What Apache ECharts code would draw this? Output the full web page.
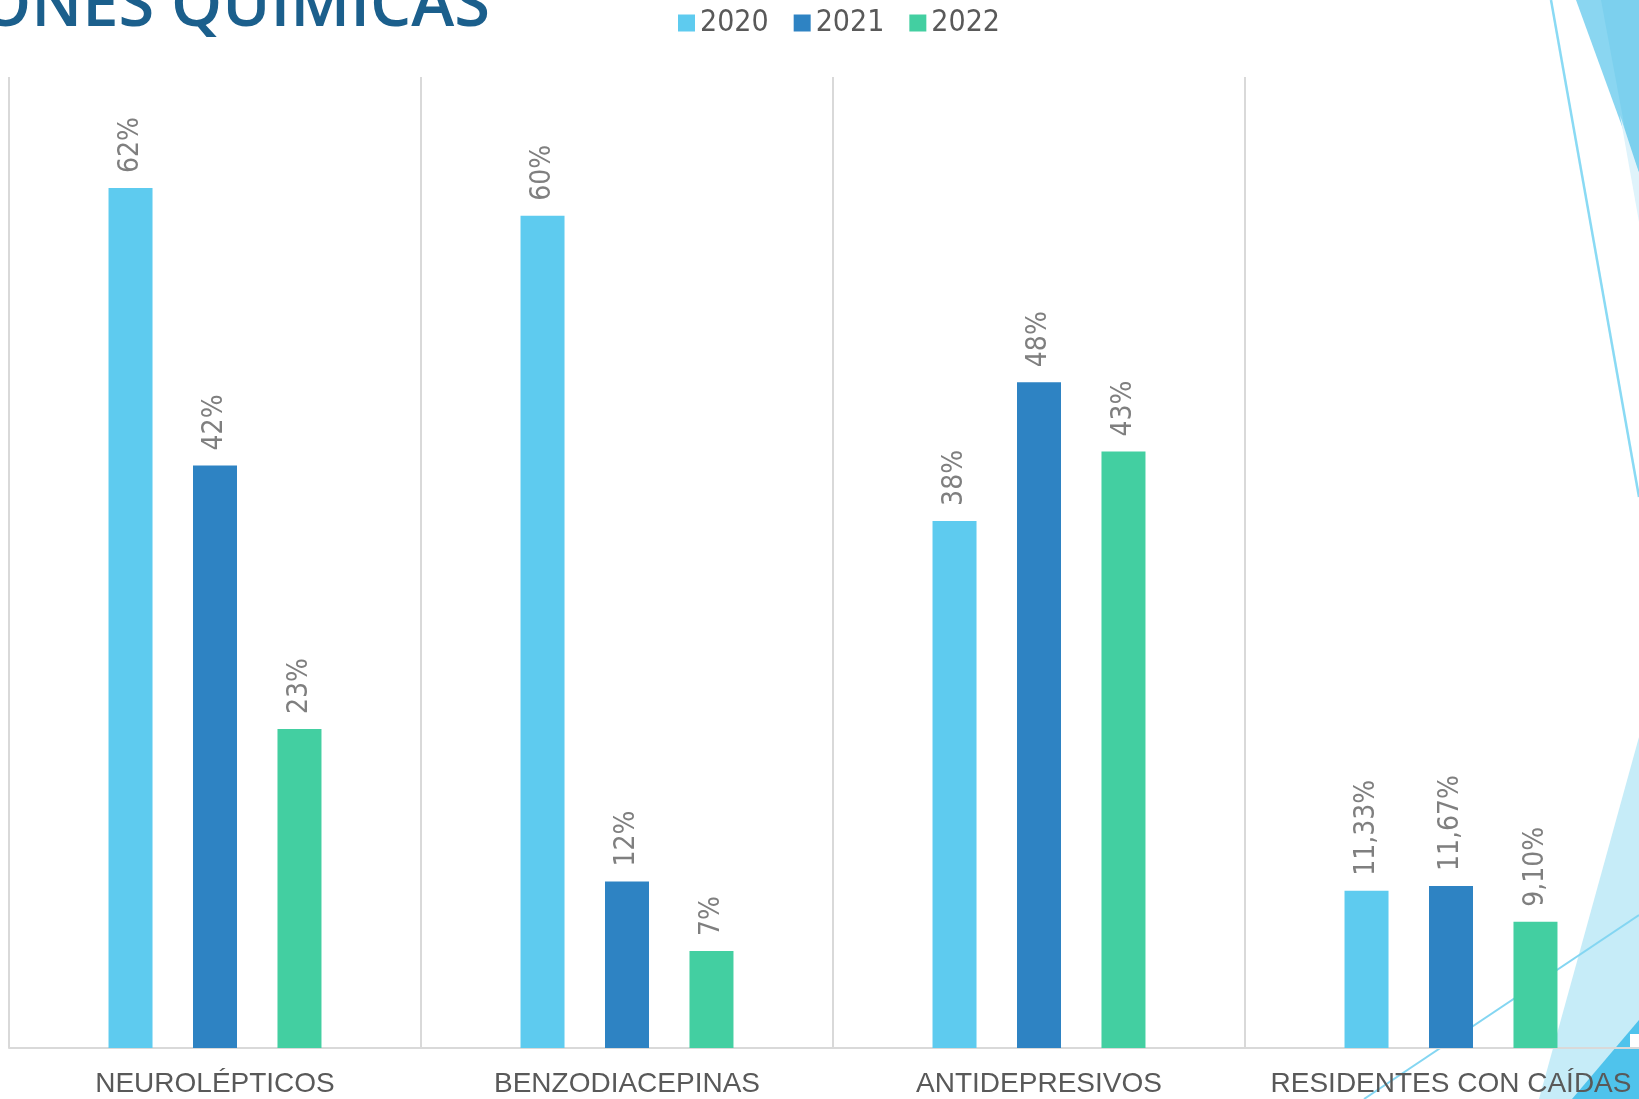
<!DOCTYPE html>
<html>
<head>
<meta charset="utf-8">
<script src="https://cdn.jsdelivr.net/npm/echarts@6/dist/echarts.min.js"></script>
<style>
html,body{margin:0;padding:0;background:#fff;}
#c{width:1639px;height:1099px;}
</style>
</head>
<body>
<div id="c"></div>
<script>
var categories = ['NEUROLÉPTICOS', 'BENZODIACEPINAS', 'ANTIDEPRESIVOS', 'RESIDENTES CON CAÍDAS'];
var seriesNames = ['2020', '2021', '2022'];
var values2020 = [62, 60, 38, 11.33];
var values2021 = [42, 12, 48, 11.67];
var values2022 = [23, 7, 43, 9.10];
var titleText = 'ONES QUÍMICAS';

var colors = ['#5ecbef', '#2e83c3', '#43cfa1'];
var narrow = "'Liberation Sans Narrow', 'DejaVu Sans Condensed', sans-serif";

function fmt(p) {
  var v = p.value;
  if (Number.isInteger(v)) return v + '%';
  return v.toFixed(2).replace('.', ',') + '%';
}

function makeSeries(name, data, color) {
  return {
    name: name,
    type: 'bar',
    data: data,
    barWidth: 44,
    barGap: '92%',
    z: 4,
    itemStyle: { color: color },
    label: {
      show: true,
      position: 'top',
      rotate: 90,
      align: 'left',
      verticalAlign: 'middle',
      distance: 15,
      formatter: fmt,
      color: '#7f7f7f',
      fontSize: 28,
      fontFamily: narrow
    }
  };
}

var chart = echarts.init(document.getElementById('c'));
chart.setOption({
  animation: false,
  backgroundColor: '#ffffff',
  color: colors,
  grid: { left: 9, top: 77, width: 1648, height: 971, containLabel: false, outerBoundsMode: 'none' },
  legend: {
    data: seriesNames,
    left: 678,
    top: 8,
    padding: 0,
    icon: 'rect',
    itemWidth: 17,
    itemHeight: 17,
    itemGap: 25,
    textStyle: { fontSize: 30, color: '#595959', fontFamily: narrow }
  },
  xAxis: {
    type: 'category',
    data: categories,
    z: 3,
    axisLine: { show: true, lineStyle: { color: '#d9d9d9', width: 2 } },
    axisTick: { show: false },
    splitLine: { show: true, lineStyle: { color: '#d9d9d9', width: 2 } },
    axisLabel: {
      interval: 0,
      margin: 22,
      fontSize: 28,
      color: '#595959',
      fontFamily: "'Liberation Sans', Arial, sans-serif"
    }
  },
  yAxis: {
    type: 'value',
    min: 0,
    max: 70,
    show: false,
    splitLine: { show: false }
  },
  graphic: [
    { type: 'polygon', z: 0, silent: true, shape: { points: [[1576,0],[1639,0],[1639,173]] }, style: { fill: '#8ad6f1' } },
    { type: 'polygon', z: 0, silent: true, shape: { points: [[1601,0],[1639,0],[1639,173],[1627,140]] }, style: { fill: '#7cd0ee' } },
    { type: 'polygon', z: 0, silent: true, shape: { points: [[1620,115],[1639,173],[1639,222]] }, style: { fill: '#dff3fb' } },
    { type: 'line', z: 0, silent: true, shape: { x1: 1551, y1: 0, x2: 1639, y2: 497 }, style: { stroke: '#8adaf4', lineWidth: 2.5 } },
    { type: 'polygon', z: 0, silent: true, shape: { points: [[1639,737],[1539,1099],[1639,1099]] }, style: { fill: '#c6ecf8' } },
    { type: 'polygon', z: 0, silent: true, shape: { points: [[1572,1099],[1639,1020],[1639,1099]] }, style: { fill: '#4fc3ec' } },
    { type: 'line', z: 0, silent: true, shape: { x1: 1364, y1: 1099, x2: 1639, y2: 915 }, style: { stroke: '#84d6f2', lineWidth: 2 } },
    { type: 'rect', z: 0, silent: true, shape: { x: 1630, y: 1034, width: 9, height: 15 }, style: { fill: '#ffffff' } },
    {
      type: 'text', z: 5, silent: true,
      style: {
        text: titleText,
        x: 490, y: 7,
        textAlign: 'right',
        textVerticalAlign: 'middle',
        font: "600 65px 'Open Sans', sans-serif",
        fill: '#1b5f8c'
      }
    }
  ],
  series: [
    makeSeries(seriesNames[0], values2020, colors[0]),
    makeSeries(seriesNames[1], values2021, colors[1]),
    makeSeries(seriesNames[2], values2022, colors[2])
  ]
});
</script>
</body>
</html>
